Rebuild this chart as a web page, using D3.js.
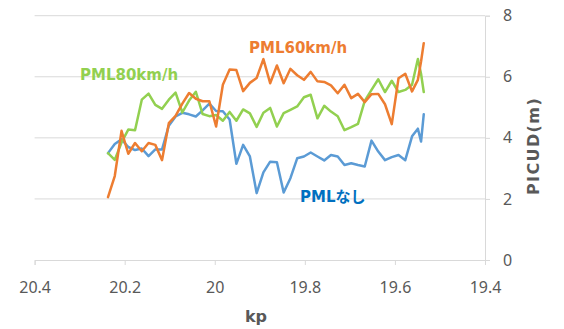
<!DOCTYPE html>
<html>
<head>
<meta charset="utf-8">
<script src="https://cdn.jsdelivr.net/npm/d3@7"></script>
<style>
  html, body { margin: 0; padding: 0; background: #fff; }
  svg { display: block; }
  text { font-family: "Noto Sans CJK JP", "Noto Sans", sans-serif; }
</style>
</head>
<body>
<svg id="chart" width="564" height="329"></svg>
<script>
// kp positions
const kp = [20.237, 20.222, 20.207, 20.192, 20.177, 20.162, 20.147, 20.132, 20.117, 20.102,
            20.087, 20.072, 20.057, 20.042, 20.027, 20.012, 19.997, 19.982, 19.967, 19.952,
            19.937, 19.922, 19.907, 19.892, 19.877, 19.862, 19.847, 19.832, 19.817, 19.802,
            19.787, 19.772, 19.757, 19.742, 19.727, 19.712, 19.697, 19.682, 19.667, 19.652,
            19.637, 19.622, 19.607, 19.592, 19.577, 19.562, 19.549, 19.542, 19.536];

const pmlNone = [3.5, 3.8, 3.95, 3.7, 3.6, 3.65, 3.4, 3.62, 3.62, 4.4,
                 4.7, 4.82, 4.77, 4.7, 4.9, 5.12, 4.88, 4.87, 4.6, 3.15,
                 3.77, 3.39, 2.19, 2.87, 3.22, 3.2, 2.21, 2.68, 3.33, 3.39,
                 3.52, 3.39, 3.26, 3.44, 3.39, 3.11, 3.17, 3.11, 3.06, 3.91,
                 3.55, 3.27, 3.37, 3.44, 3.27, 4.05, 4.3, 3.88, 4.77];

const pml60 = [2.06, 2.75, 4.23, 3.48, 3.83, 3.56, 3.83, 3.77, 3.27, 4.48,
               4.72, 5.12, 5.47, 5.28, 5.2, 5.2, 4.37, 5.74, 6.24, 6.22,
               5.53, 5.8, 5.96, 6.58, 5.79, 6.37, 5.79, 6.26, 6.05, 5.9,
               6.16, 5.85, 5.83, 5.72, 5.46, 5.74, 5.3, 5.44, 5.17, 5.43,
               5.44, 5.1, 4.45, 5.95, 6.1, 5.52, 5.9, 6.5, 7.1];

const pml80 = [3.5, 3.28, 3.85, 4.27, 4.25, 5.25, 5.45, 5.08, 4.95, 5.25,
               5.48, 4.83, 5.22, 5.51, 4.78, 4.71, 4.75, 4.56, 4.85, 4.56,
               4.93, 4.8, 4.36, 4.82, 4.98, 4.37, 4.81, 4.92, 5.03, 5.33,
               5.41, 4.64, 5.05, 4.86, 4.71, 4.25, 4.35, 4.46, 5.21, 5.57,
               5.92, 5.5, 5.87, 5.5, 5.57, 5.74, 6.58, 6.1, 5.5];

const xTicks = [20.4, 20.2, 20, 19.8, 19.6, 19.4];
const yTicks = [0, 2, 4, 6, 8];

const seriesNames = ["PMLなし", "PML60km/h", "PML80km/h"];

const svg = d3.select("#chart");
const x = d3.scaleLinear().domain([20.4, 19.4]).range([34.6, 485]);
const y = d3.scaleLinear().domain([0, 8]).range([260, 15.7]);

const gridColor = "#d9d9d9";
const textColor = "#595959";

// gridlines
svg.append("g").selectAll("line").data(yTicks.filter(d => d > 0)).join("line")
  .attr("x1", x(20.4)).attr("x2", x(19.4))
  .attr("y1", d => y(d)).attr("y2", d => y(d))
  .attr("stroke", gridColor).attr("stroke-width", 1);

// x axis
const xAxis = svg.append("g").attr("transform", `translate(0,${y(0)})`)
  .call(d3.axisBottom(x).tickValues(xTicks).tickSize(5).tickPadding(17)
        .tickFormat(d => String(d)));
xAxis.select(".domain").attr("stroke", gridColor);
xAxis.selectAll(".tick line").attr("stroke", gridColor);
xAxis.selectAll(".tick text").attr("fill", textColor).attr("font-size", 16)
  .style("font-family", '"Noto Sans", sans-serif');

// y axis (right)
const yAxis = svg.append("g").attr("transform", `translate(${x(19.4)},0)`)
  .call(d3.axisRight(y).tickValues(yTicks).tickSize(5).tickPadding(13)
        .tickFormat(d => String(d)));
yAxis.select(".domain").attr("stroke", gridColor);
yAxis.selectAll(".tick line").attr("stroke", gridColor);
yAxis.selectAll(".tick text").attr("fill", textColor).attr("font-size", 16)
  .style("font-family", '"Noto Sans", sans-serif');

// axis titles
svg.append("text").attr("x", 256).attr("y", 322).attr("text-anchor", "middle")
  .attr("font-size", 16).attr("font-weight", "bold").attr("fill", textColor)
  .style("font-family", '"DejaVu Sans", sans-serif')
  .text("kp");
svg.append("text").attr("transform", `translate(539,146) rotate(-90)`)
  .attr("text-anchor", "middle")
  .attr("font-size", 16).attr("font-weight", "bold").attr("fill", textColor)
  .attr("letter-spacing", 1.4)
  .style("font-family", '"DejaVu Sans", sans-serif')
  .text("PICUD(m)");

// lines
const line = d3.line().x((d, i) => x(kp[i])).y(d => y(d));
const lineColors = ["#5B9BD5", "#ED7D31", "#92D050"];
[pmlNone, pml80, pml60].forEach((vals) => {
  const c = vals === pmlNone ? lineColors[0] : vals === pml60 ? lineColors[1] : lineColors[2];
  svg.append("path").datum(vals)
    .attr("d", line).attr("fill", "none")
    .attr("stroke", c).attr("stroke-width", 2.5)
    .attr("stroke-linejoin", "round").attr("stroke-linecap", "round");
});

// series labels
const labels = [
  {name: seriesNames[1], x: 249, y: 53, color: "#ED7D31"},
  {name: seriesNames[2], x: 80, y: 80, color: "#92D050"},
  {name: seriesNames[0], x: 300, y: 202, color: "#0070C0"}
];
svg.append("g").selectAll("text").data(labels).join("text")
  .attr("x", d => d.x).attr("y", d => d.y)
  .attr("font-size", 15).attr("font-weight", "bold")
  .attr("fill", d => d.color)
  .style("font-family", '"DejaVu Sans", "Noto Sans CJK JP", sans-serif')
  .text(d => d.name);
</script>
</body>
</html>
